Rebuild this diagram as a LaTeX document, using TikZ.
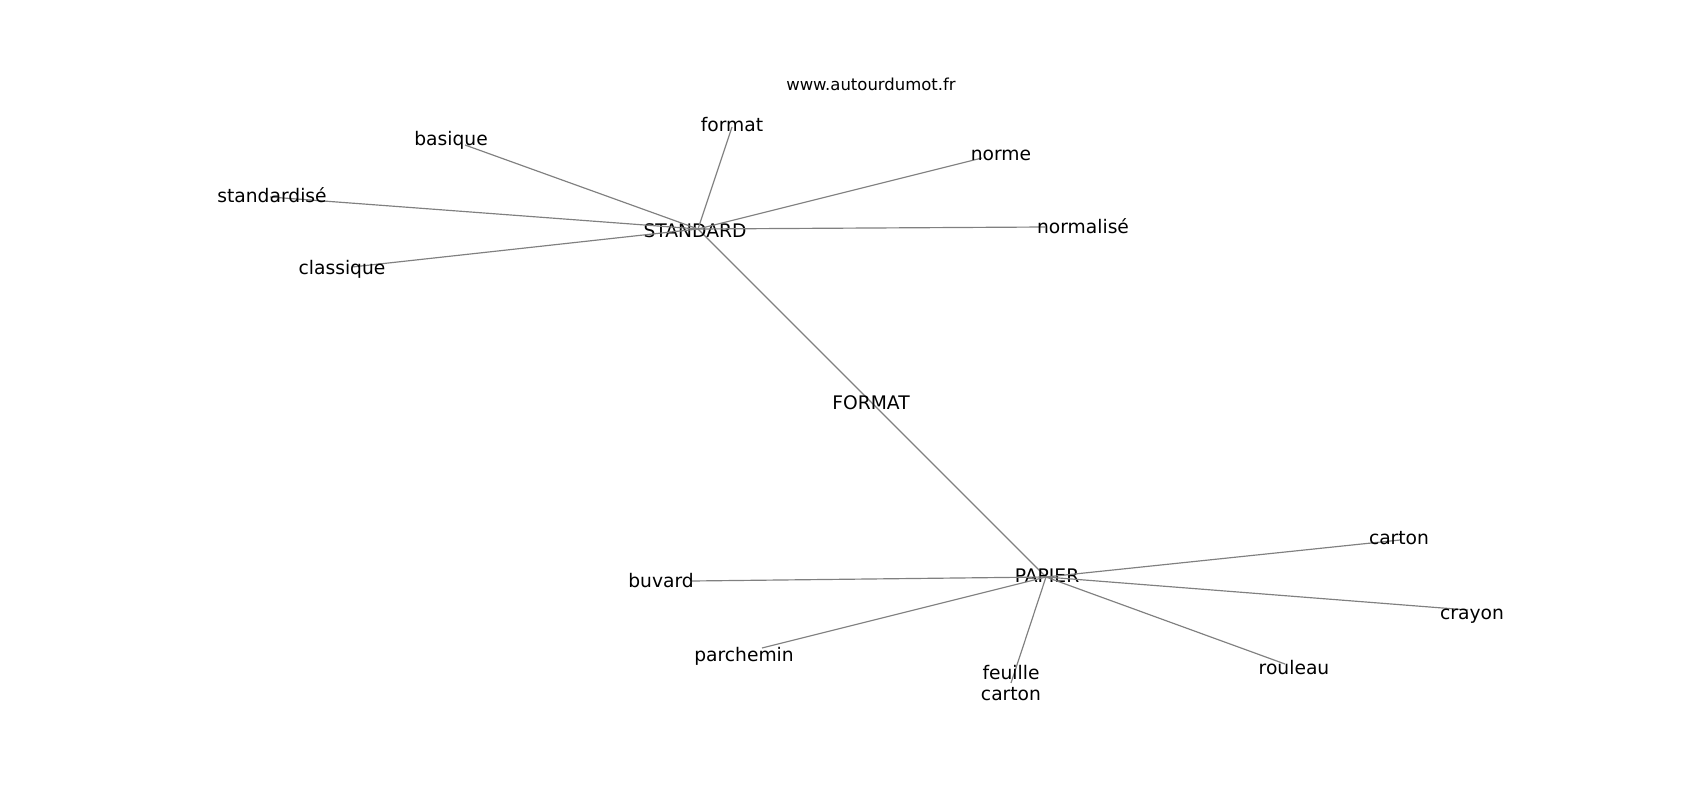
\documentclass[tikz,border=0pt]{standalone}
\usepackage{fontspec}
\setmainfont{DejaVu Sans}
\begin{document}
\begin{tikzpicture}[x=0.01in,y=-0.01in,
  word/.style={inner sep=0pt,yshift=-1.5pt,text height=0.73em,text depth=0pt,font=\fontsize{13.5}{15.1}\selectfont},
  link/.style={draw=gray,line width=0.85pt}]
\useasboundingbox (0,0) rectangle (1700,800);
\node[inner sep=0pt,font=\fontsize{11.9}{14}\selectfont] (site) at (871,84) {www.autourdumot.fr};
% hubs
\coordinate (standard-p) at (698,229);
\coordinate (format-p) at (871,402);
\coordinate (papier-p) at (1046,577);
\draw[link] (standard-p)--(format-p);
\draw[link] (format-p)--(papier-p);
\node[word] (standard) at (695,230) {STANDARD};
\node[word] (formatmaj) at (871,402) {FORMAT};
\node[word] (papier) at (1047,575) {PAPIER};
% words round STANDARD
\foreach \n/\p/\t/\q in {basique/{451,138}/basique/{465,145},
    formatmin/{732,124}/format/{732,127},
    norme/{1001,153}/norme/{982,158},
    standardise/{272,195}/standardisé/{270,197},
    normalise/{1083,226}/normalisé/{1045,227},
    classique/{342,267}/classique/{352,267}}
{
    \coordinate (\n-p) at (\q);
    \draw[link] (standard-p)--(\n-p);
    \node[word] (\n) at (\p) {\t};
}
% words round PAPIER
\foreach \n/\p/\t/\q in {carton/{1399,537}/carton/{1400,540},
    buvard/{661,580}/buvard/{692,581},
    crayon/{1472,612}/crayon/{1468,610},
    parchemin/{744,654}/parchemin/{762,648},
    rouleau/{1294,667}/rouleau/{1285,664}}
{
    \coordinate (\n-p) at (\q);
    \draw[link] (papier-p)--(\n-p);
    \node[word] (\n) at (\p) {\t};
}
\coordinate (feuille-p) at (1011,683);
\draw[link] (papier-p)--(feuille-p);
\node[word,align=center,text height=,text depth=] (feuille) at (1011,681) {feuille\\carton};
\end{tikzpicture}
\end{document}
